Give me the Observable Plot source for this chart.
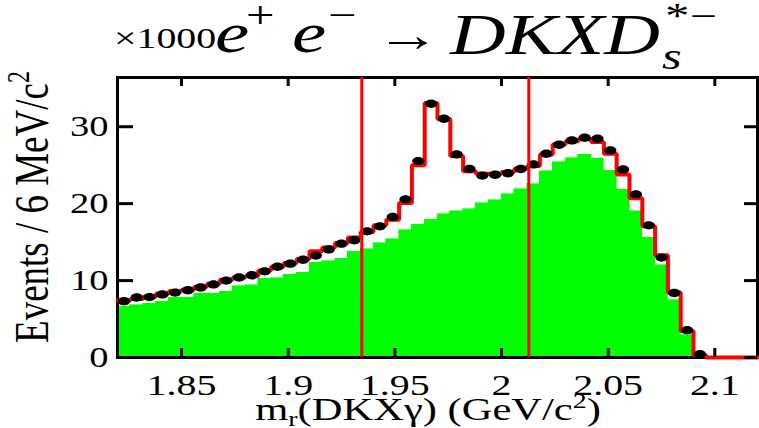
<!DOCTYPE html>
<html><head><meta charset="utf-8">
<script src="https://cdn.jsdelivr.net/npm/d3@7"></script>
<script src="https://cdn.jsdelivr.net/npm/@observablehq/plot@0.6"></script>
<style>body{margin:0;background:#fff}#chart{width:759px;height:428px}</style>
</head><body><div id="chart"></div>
<script>
// ---- data (thousands of events per 6 MeV/c^2 bin) ----
const binStart = 1.82;
const binWidth = 0.006;
const dataCounts = [7.31, 7.8, 7.85, 8.2, 8.44, 8.74, 9.1, 9.5, 10.0, 10.4, 10.69, 11.2, 11.8, 12.2, 12.7, 13.25, 14.05, 14.8, 15.25, 16.4, 17.05, 18.26, 20.56, 25.53, 32.99, 31.04, 26.4, 24.5, 23.65, 23.75, 23.95, 24.5, 25.1, 26.49, 27.65, 28.22, 28.57, 28.44, 26.92, 24.45, 21.21, 17.18, 12.99, 8.39, 3.55, 0.43];
const fitTotal = [7.4, 7.6, 7.9, 8.3, 8.6, 8.8, 9.2, 9.6, 10.1, 10.4, 10.6, 11.3, 11.8, 12.3, 12.8, 13.8, 14.3, 14.9, 15.6, 16.3, 17.2, 17.9, 20.1, 25.0, 33.07, 31.0, 26.2, 24.2, 23.9, 23.9, 24.1, 24.55, 24.9, 26.4, 27.7, 28.1, 28.4, 28.0, 26.5, 23.8, 20.7, 17.05, 13.3, 8.44, 3.46, 0.3, 0, 0, 0, 0];
const background = [6.57, 6.79, 7.01, 7.22, 7.79, 7.79, 8.31, 8.31, 8.52, 9.26, 9.39, 10.26, 10.3, 10.75, 11.0, 12.29, 12.5, 12.86, 13.72, 14.1, 14.85, 15.4, 16.53, 17.27, 17.9, 18.6, 19.0, 19.25, 20.08, 20.43, 21.25, 21.9, 22.55, 24.2, 25.4, 25.9, 26.36, 25.84, 24.3, 21.8, 19.04, 15.58, 11.99, 7.44, 2.9, 0, 0, 0, 0, 0];
const signalWindow = [1.9345, 2.0128];
const xTicks = [1.85, 1.9, 1.95, 2, 2.05, 2.1];
const xTickLabels = ["1.85", "1.9", "1.95", "2", "2.05", "2.1"];
const yTicks = [0, 10, 20, 30];
const yTickLabels = ["0", "10", "20", "30"];
const xDomain = [1.82, 2.12];
const yDomain = [0, 36.4];

// ---- derived tables ----
const bgBins = background.map((v, i) => ({x1: binStart + i * binWidth, x2: binStart + (i + 1) * binWidth, y: v}));
const fitSteps = fitTotal.flatMap((v, i) => [{x: binStart + i * binWidth, y: v}, {x: binStart + (i + 1) * binWidth, y: v}]);
const dataPts = dataCounts.map((v, i) => ({x: binStart + (i + 0.5) * binWidth, y: v}));

const W = 759, H = 428, mL = 117, mR = 2, mT = 77, mB = 71;
const frameW = W - mL - mR, frameH = H - mT - mB;
const S = 1.33; // horizontal stretch of the original figure
const FONT = "Liberation Serif, Times New Roman, serif";

const ellipse = {
  draw(ctx, size) {
    const r = Math.sqrt(size / Math.PI), rx = r * 1.45, ry = r, k = 0.5523;
    ctx.moveTo(rx, 0);
    ctx.bezierCurveTo(rx, ry * k, rx * k, ry, 0, ry);
    ctx.bezierCurveTo(-rx * k, ry, -rx, ry * k, -rx, 0);
    ctx.bezierCurveTo(-rx, -ry * k, -rx * k, -ry, 0, -ry);
    ctx.bezierCurveTo(rx * k, -ry, rx, -ry * k, rx, 0);
    ctx.closePath();
  }
};

const plot = Plot.plot({
  width: W, height: H,
  marginLeft: mL, marginRight: mR, marginTop: mT, marginBottom: mB,
  style: {fontFamily: FONT, background: "#fff", color: "#000"},
  x: {domain: xDomain},
  y: {domain: yDomain},
  marks: [
    Plot.rectY(bgBins, {x1: "x1", x2: "x2", y: "y", fill: "#00ff00", stroke: "#00ff00", strokeWidth: 0.6, shapeRendering: "crispEdges"}),
    Plot.frame({stroke: "#000", strokeWidth: 3}),
    Plot.line(fitSteps, {x: "x", y: "y", stroke: "#ff0000", strokeWidth: 4, strokeLinejoin: "miter"}),
    Plot.dot(dataPts, {x: "x", y: "y", r: 4.2, symbol: ellipse, fill: "#000", stroke: "none"}),
    Plot.ruleX(signalWindow, {stroke: "#ff0000", strokeWidth: 3}),
    // inward ticks (ROOT style)
    Plot.tickX(xTicks, {x: d => d, stroke: "#000", strokeWidth: 3, insetTop: frameH - 9}),
    Plot.tickX(xTicks, {x: d => d, stroke: "#000", strokeWidth: 3, insetBottom: frameH - 9}),
    Plot.tickY(yTicks, {y: d => d, stroke: "#000", strokeWidth: 3, insetRight: frameW - 16}),
    Plot.tickY(yTicks, {y: d => d, stroke: "#000", strokeWidth: 3, insetLeft: frameW - 13}),
    Plot.axisX(xTicks, {tickSize: 0, tickPadding: 16, fontSize: 30, label: null, tickFormat: d => xTickLabels[xTicks.indexOf(d)]}),
    Plot.axisY(yTicks, {tickSize: 0, tickPadding: 9, fontSize: 29, label: null, tickFormat: d => yTickLabels[yTicks.indexOf(d)]})
  ]
});
document.getElementById("chart").appendChild(plot);

// stretch tick labels horizontally like the original figure
plot.querySelectorAll('g[aria-label$="tick label"] text').forEach(el => {
  const t = el.getAttribute("transform");
  if (t && t.includes("translate")) {
    el.setAttribute("transform", t + ` scale(${S},1)`);
  } else {
    const x = +el.getAttribute("x") || 0, y = +el.getAttribute("y") || 0;
    el.removeAttribute("x"); el.removeAttribute("y");
    el.setAttribute("transform", `translate(${x},${y}) scale(${S},1)`);
  }
});

const svg = d3.select(plot);
function txt(x, y, str, size, opts = {}) {
  const t = svg.append("text")
    .attr("transform", `translate(${x},${y}) scale(${S},1)`)
    .attr("font-family", FONT)
    .attr("font-size", size)
    .attr("fill", "#000")
    .attr("text-anchor", opts.anchor || "start");
  if (opts.italic) t.attr("font-style", "italic");
  if (typeof str === "string") t.text(str);
  else str.forEach(p => {
    const s = t.append("tspan").text(p.t);
    if (p.size) s.attr("font-size", p.size);
    if (p.dy) s.attr("dy", p.dy);
  });
  return t;
}

// title
txt(114, 48, "×1000", 30);
txt(215, 52, "e", 58, {italic: true});
txt(246, 28, "+", 38);
txt(292, 52, "e", 58, {italic: true});
txt(328, 28, "−", 38);
txt(376, 51, "→", 48);
txt(450, 54, "DKXD", 58, {italic: true});
txt(663, 28, "*−", 36, {italic: true});
txt(662, 69, "s", 38, {italic: true});

// x-axis title
txt(428, 420, [
  {t: "m"}, {t: "r", size: 21, dy: 6}, {t: "(DKXγ) (GeV/c", dy: -6}, {t: "2", size: 21, dy: -12}, {t: ")", dy: 12}
], 32, {anchor: "middle"});

// y-axis title (rotated); stretch applies to screen x
svg.append("text")
  .attr("transform", `translate(48,207) scale(${S},1) rotate(-90)`)
  .attr("font-family", FONT).attr("font-size", 37).attr("text-anchor", "middle").attr("fill", "#000")
  .call(t => {
    t.append("tspan").text("Events / 6 MeV/c");
    t.append("tspan").text("2").attr("font-size", 24).attr("dy", -14);
  });
</script>
</body></html>
